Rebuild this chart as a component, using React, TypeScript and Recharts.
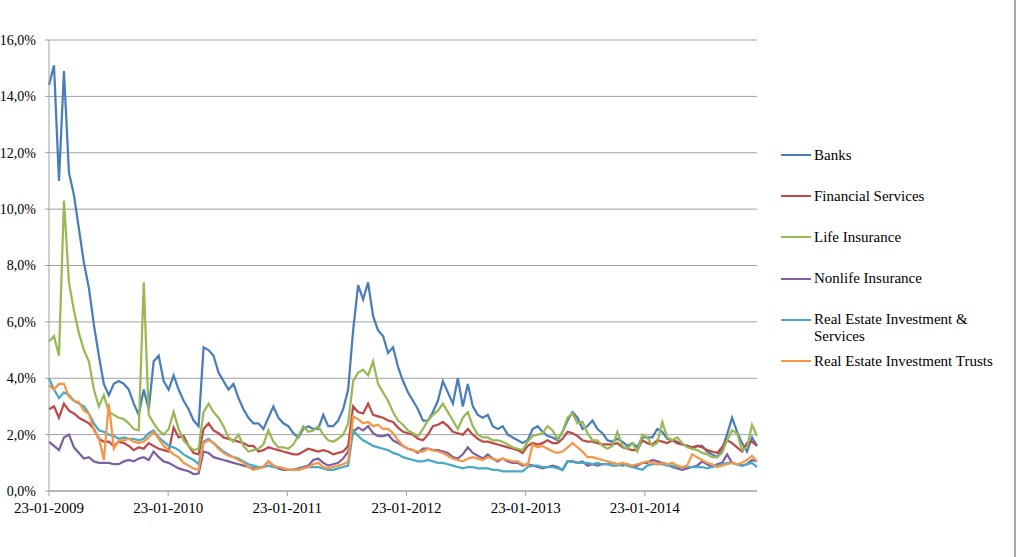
import { LineChart, Line, XAxis, YAxis, CartesianGrid } from 'recharts'

// x = half-month steps from 23-01-2009, one year ≈ 23.9 steps
const yearTicks = [0, 23.9, 47.8, 71.7, 95.6, 119.5]
const yearLabels = ['23-01-2009', '23-01-2010', '23-01-2011', '23-01-2012', '23-01-2013', '23-01-2014']
const pctTicks = [0, 2, 4, 6, 8, 10, 12, 14, 16]

const banks = [
  14.4, 15.1, 11.0, 14.9, 11.3, 10.5, 9.3, 8.1, 7.2, 5.9,
  4.8, 3.8, 3.4, 3.8, 3.9, 3.8, 3.6, 3.1, 2.7, 3.6,
  2.9, 4.6, 4.8, 3.9, 3.6, 4.1, 3.6, 3.2, 2.9, 2.5,
  2.3, 5.1, 5.0, 4.8, 4.2, 3.9, 3.6, 3.8, 3.3, 2.9,
  2.6, 2.4, 2.4, 2.2, 2.6, 3.0, 2.6, 2.4, 2.3, 2.05,
  1.9, 2.2, 2.3, 2.2, 2.2, 2.7, 2.3, 2.3, 2.5, 2.9,
  3.6, 5.7, 7.3, 6.8, 7.4, 6.2, 5.7, 5.5, 4.9, 5.1,
  4.4, 3.9, 3.5, 3.2, 2.9, 2.5, 2.5, 2.8, 3.2, 3.9,
  3.5, 3.1, 4.0, 3.0, 3.8, 3.0, 2.7, 2.6, 2.7, 2.3,
  2.2, 2.3, 2.0, 1.9, 1.8, 1.7, 1.8, 2.2, 2.3, 2.1,
  1.95, 1.9, 1.8, 2.1, 2.5, 2.8, 2.6, 2.2, 2.3, 2.5,
  2.2, 2.05, 1.8, 1.75, 1.85, 1.75, 1.6, 1.7, 1.55, 1.9,
  1.9, 1.9, 2.2, 2.1, 1.85, 1.8, 1.75, 1.65, 1.6, 1.5,
  1.6, 1.6, 1.4, 1.3, 1.2, 1.5, 2.0, 2.6, 2.1, 1.7,
  1.4, 1.9, 1.6,
]

const financial = [
  2.9, 3.0, 2.6, 3.1, 2.85, 2.75, 2.6, 2.5, 2.4, 2.2,
  1.85, 1.75, 1.75, 1.6, 1.75, 1.7, 1.6, 1.45, 1.55, 1.5,
  1.7, 1.6, 1.5, 1.45, 1.4, 2.25, 1.9, 1.95, 1.6, 1.35,
  1.3, 2.2, 2.4, 2.15, 2.05, 1.9, 1.85, 1.8, 1.75, 1.7,
  1.6, 1.6, 1.4, 1.45, 1.55, 1.5, 1.45, 1.4, 1.35, 1.3,
  1.3, 1.4, 1.5, 1.45, 1.4, 1.45, 1.4, 1.3, 1.35, 1.4,
  1.6, 3.0, 2.8, 2.75, 3.1, 2.7, 2.65, 2.6, 2.5, 2.45,
  2.25, 2.1, 2.05, 2.0, 1.85, 1.8, 2.0, 2.3, 2.35, 2.45,
  2.3, 2.1, 2.05, 2.0, 2.2, 2.0, 1.85, 1.75, 1.75, 1.7,
  1.65, 1.6, 1.55, 1.5, 1.45, 1.35, 1.6, 1.7, 1.65, 1.7,
  1.8, 1.7, 1.7, 1.85, 2.1, 2.05, 1.95, 1.8, 1.75, 1.75,
  1.7, 1.65, 1.65, 1.65, 1.7, 1.55, 1.5, 1.45, 1.45, 1.8,
  1.7, 1.65, 1.8, 1.75, 1.7, 1.8, 1.7, 1.65, 1.6, 1.55,
  1.6, 1.55, 1.45, 1.4, 1.35, 1.55, 1.8, 1.7, 1.55, 1.4,
  1.7, 1.75, 1.6,
]

const life = [
  5.3, 5.5, 4.8, 10.3, 7.4, 6.4, 5.6, 5.0, 4.6, 3.6,
  3.0, 3.4, 2.8, 2.7, 2.6, 2.55, 2.4, 2.2, 2.15, 7.4,
  2.7, 2.4, 2.15, 2.0, 2.2, 2.8, 2.2, 1.8, 1.6, 1.45,
  1.5, 2.8, 3.1, 2.8, 2.6, 2.3, 1.9, 1.75, 2.0, 1.6,
  1.4, 1.45, 1.5, 1.65, 2.15, 1.75, 1.55, 1.55, 1.5, 1.65,
  1.95, 2.3, 2.1, 2.15, 2.3, 2.0, 1.8, 1.75, 1.85, 2.0,
  2.4, 3.9, 4.2, 4.3, 4.1, 4.6, 3.8, 3.5, 3.2, 2.8,
  2.5, 2.35, 2.15, 2.05, 1.95, 2.2, 2.5, 2.7, 2.85, 3.1,
  2.8, 2.5, 2.2, 2.6, 2.8, 2.3, 2.0, 1.9, 1.9, 1.8,
  1.8, 1.75, 1.65, 1.55, 1.5, 1.45, 1.75, 1.95, 2.0, 2.05,
  2.3, 2.15, 1.85, 2.1, 2.6, 2.75, 2.4, 2.45, 2.05, 1.8,
  1.8, 1.6, 1.5, 1.6, 2.1, 1.6, 1.5, 1.7, 1.4, 2.0,
  1.9, 1.6, 1.7, 2.45, 1.9, 1.8, 1.9, 1.7, 1.55, 1.5,
  1.45, 1.35, 1.3, 1.2, 1.2, 1.35, 1.8, 2.15, 2.05, 1.45,
  1.55, 2.35, 1.95,
]

const nonlife = [
  1.75, 1.6, 1.45, 1.9, 2.0, 1.55, 1.35, 1.15, 1.2, 1.05,
  1.0, 1.0, 1.0, 0.95, 0.95, 1.05, 1.1, 1.05, 1.15, 1.2,
  1.1, 1.4, 1.2, 1.05, 1.0, 0.9, 0.8, 0.75, 0.7, 0.6,
  0.62, 1.4, 1.35, 1.2, 1.15, 1.1, 1.05, 1.0, 0.95, 0.9,
  0.85, 0.8, 0.8, 0.85, 1.05, 0.9, 0.8, 0.75, 0.75, 0.75,
  0.8, 0.85, 0.9, 1.1, 1.15, 1.0, 0.9, 0.95, 1.0, 1.15,
  1.4, 2.1, 2.25, 2.15, 2.3, 2.05, 1.95, 1.95, 2.0, 1.8,
  1.7, 1.6, 1.5, 1.45, 1.35, 1.5, 1.5, 1.45, 1.45, 1.4,
  1.35, 1.2, 1.15, 1.3, 1.55, 1.35, 1.25, 1.15, 1.3, 1.15,
  1.05, 1.15, 1.05, 1.0, 1.0, 0.9, 0.95, 0.9, 0.85, 0.8,
  0.85, 0.9, 0.85, 0.75, 1.05, 1.05, 1.0, 1.05, 0.9, 0.95,
  0.9, 0.95, 0.95, 1.0, 0.95, 0.9, 0.95, 0.85, 0.9, 1.0,
  1.0, 1.1, 1.05, 1.0, 0.95, 0.85, 0.8, 0.75, 0.8, 0.85,
  0.9, 1.05, 0.95, 0.85, 0.95, 1.0, 1.3, 1.0, 0.95, 0.9,
  0.95, 1.1, 1.05,
]

const realEstateServices = [
  4.0, 3.6, 3.3, 3.5, 3.4, 3.2, 3.1, 3.0, 2.75, 2.4,
  2.15, 2.1, 2.0, 1.95, 1.85, 1.9, 1.85, 1.85, 1.8, 1.85,
  2.05, 2.15, 1.9, 1.75, 1.6, 1.55, 1.45, 1.3, 1.2, 1.1,
  0.95, 1.75, 1.85, 1.7, 1.55, 1.4, 1.3, 1.2, 1.15, 1.05,
  0.95, 0.9, 0.85, 0.85, 0.9, 0.85, 0.85, 0.8, 0.75, 0.75,
  0.75, 0.8, 0.85, 0.85, 0.85, 0.8, 0.75, 0.75, 0.8, 0.85,
  0.9, 2.15, 1.95, 1.8, 1.7, 1.6, 1.55, 1.5, 1.45, 1.35,
  1.3, 1.2, 1.15, 1.1, 1.05, 1.05, 1.1, 1.05, 1.0, 1.0,
  0.95, 0.9, 0.85, 0.8, 0.85, 0.85, 0.8, 0.8, 0.8, 0.75,
  0.75, 0.7, 0.7, 0.7, 0.7, 0.7, 0.85, 0.9, 0.9, 0.85,
  0.85, 0.85, 0.8, 0.75, 1.05, 1.05, 1.0, 1.0, 1.0, 0.95,
  1.0, 0.95, 0.95, 0.9, 0.9, 0.95, 0.9, 0.85, 0.8, 0.75,
  0.9, 0.95, 0.95, 0.95, 0.9, 0.9, 0.85, 0.85, 0.85, 0.85,
  0.85, 0.85, 0.8, 0.85, 0.9, 0.95, 1.0, 1.0, 0.95, 0.9,
  0.95, 1.0, 0.85,
]

const reits = [
  3.75, 3.6, 3.8, 3.8, 3.35, 3.2, 3.15, 2.85, 2.75, 2.15,
  1.9, 1.1, 3.1, 1.5, 1.8, 1.8, 1.85, 1.75, 1.7, 1.75,
  1.9, 2.1, 1.85, 1.6, 1.45, 1.3, 1.2, 1.0, 0.9, 0.8,
  0.75, 1.7, 1.8, 1.7, 1.5, 1.35, 1.25, 1.2, 1.1, 1.0,
  0.85, 0.75, 0.8, 0.85, 1.05, 0.9, 0.85, 0.8, 0.75, 0.75,
  0.75, 0.8, 0.85, 0.95, 1.0, 0.85, 0.8, 0.85, 0.9, 0.95,
  1.05, 2.65, 2.55, 2.4, 2.45, 2.3, 2.35, 2.2, 2.2, 2.05,
  1.8, 1.6, 1.5, 1.45, 1.4, 1.4, 1.5, 1.45, 1.4, 1.35,
  1.25, 1.15, 1.1, 1.05, 1.15, 1.2, 1.15, 1.1, 1.2, 1.15,
  1.1, 1.15, 1.1, 1.05, 1.05, 0.95, 0.9, 1.65, 1.55, 1.6,
  1.5, 1.4, 1.35, 1.4, 1.55, 1.7, 1.55, 1.4, 1.2, 1.2,
  1.15, 1.1, 1.05, 1.0, 0.95, 1.0, 0.95, 0.9, 0.95, 1.0,
  1.05, 1.0, 0.95, 1.0, 0.95, 1.0, 0.9, 0.85, 0.9, 1.3,
  1.2, 1.1, 1.0, 0.95, 0.85, 0.9, 0.95, 1.0, 0.95, 1.0,
  1.1, 1.25, 1.05,
]

const series = [
  { key: 'banks', name: 'Banks', color: '#4A7EBB', values: banks },
  { key: 'financial', name: 'Financial Services', color: '#BE4B48', values: financial },
  { key: 'life', name: 'Life Insurance', color: '#98B954', values: life },
  { key: 'nonlife', name: 'Nonlife Insurance', color: '#7D60A0', values: nonlife },
  { key: 'reis', name: 'Real Estate Investment & Services', color: '#46AAC5', values: realEstateServices },
  { key: 'reit', name: 'Real Estate Investment Trusts', color: '#F79646', values: reits },
]

const data = banks.map((_, i) => {
  const row: Record<string, number> = { t: i }
  series.forEach((s) => {
    row[s.key] = s.values[i]
  })
  return row
})

const font = 'Liberation Serif, Times New Roman, DejaVu Serif, serif'

export default function App() {
  return (
    <div
      style={{
        position: 'absolute',
        left: 0,
        top: 0,
        width: 1023,
        height: 557,
        background: '#fff',
        fontFamily: font,
      }}
    >
      <LineChart
        width={1023}
        height={557}
        data={data}
        margin={{ top: 40, right: 266, left: 0, bottom: 26 }}
        style={{ fontFamily: font }}
      >
        <CartesianGrid vertical={false} stroke="#a0a0a0" />
        <XAxis
          type="number"
          dataKey="t"
          domain={[0, 142]}
          ticks={yearTicks}
          tickFormatter={(v: number) => yearLabels[yearTicks.indexOf(v)] ?? ''}
          height={40}
          tick={{ fontSize: 15, fill: '#000', fontFamily: font }}
          tickSize={5}
          tickMargin={6}
          axisLine={{ stroke: '#a0a0a0' }}
          tickLine={{ stroke: '#a0a0a0' }}
          interval={0}
        />
        <YAxis
          domain={[0, 16]}
          ticks={pctTicks}
          width={49}
          tickFormatter={(v: number) => `${v.toFixed(1).replace('.', ',')}%`}
          tick={{ fontSize: 14, fill: '#000', fontFamily: font }}
          tickSize={4}
          tickMargin={9}
          axisLine={{ stroke: '#a0a0a0' }}
          tickLine={{ stroke: '#a0a0a0' }}
          interval={0}
        />
        {series.map((s) => (
          <Line
            key={s.key}
            type="linear"
            dataKey={s.key}
            name={s.name}
            stroke={s.color}
            strokeWidth={2.25}
            dot={false}
            activeDot={false}
            isAnimationActive={false}
          />
        ))}
      </LineChart>

      {/* legend, Excel style on the right */}
      {series.map((s, i) => (
        <div
          key={s.key}
          style={{
            position: 'absolute',
            left: 781,
            top: 155 + i * 41.2 - 8.5,
            display: 'flex',
            alignItems: 'flex-start',
            fontSize: 15,
            lineHeight: '17px',
            color: '#000',
          }}
        >
          <span
            style={{
              display: 'inline-block',
              width: 30,
              height: 2,
              marginTop: 7.5,
              marginRight: 3,
              background: s.color,
            }}
          />
          <span style={{ maxWidth: 190 }}>{s.name}</span>
        </div>
      ))}

      <div
        style={{
          position: 'absolute',
          left: 1014,
          top: 0,
          width: 2,
          height: 557,
          background: '#a6a6a6',
        }}
      />
    </div>
  )
}
